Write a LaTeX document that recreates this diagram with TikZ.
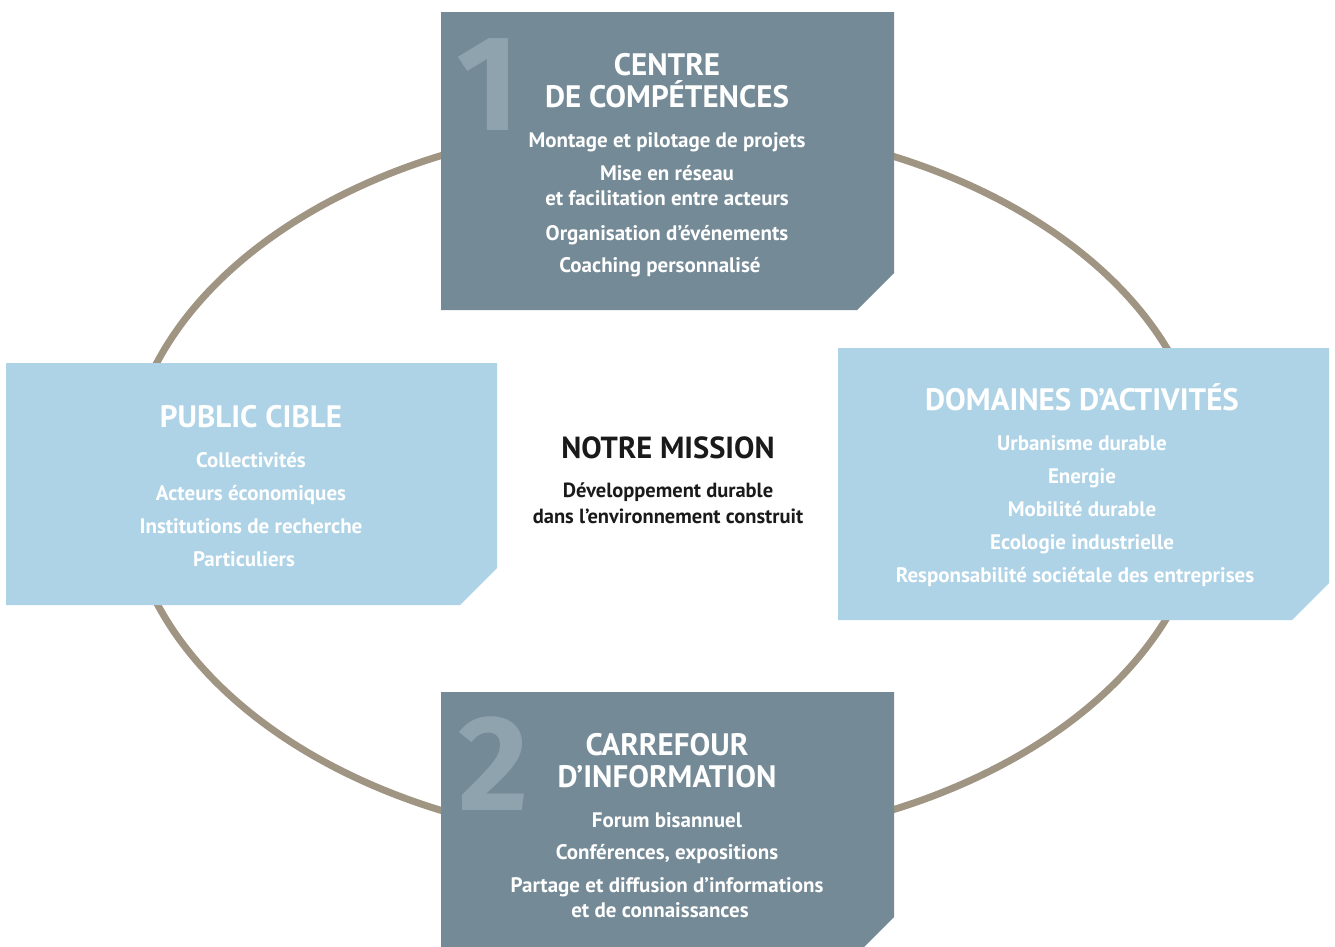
\documentclass[tikz,border=0pt]{standalone}
\usepackage{fontspec}
\setmainfont{PT Sans}
\newfontfamily\numfont{Fira Sans}
\definecolor{slate}{HTML}{748A96}
\definecolor{sky}{HTML}{AED3E6}
\definecolor{taupe}{HTML}{A09582}
\definecolor{numgrey}{HTML}{8FA3AF}
\definecolor{ink}{HTML}{1A1A1A}

\begin{document}
\begin{tikzpicture}[x=1pt, y=-1pt,
    head/.style={text=white, font=\bfseries\fontsize{31}{32}\selectfont, anchor=base, inner sep=0pt},
    item/.style={text=white, font=\bfseries\fontsize{21}{24}\selectfont, anchor=base, inner sep=0pt},
    bignum/.style={text=numgrey, font=\numfont\bfseries\fontsize{136}{136}\selectfont, anchor=base west, inner sep=0pt}]
    \clip (0,0) rectangle (1335,946);
    % ring
    \draw[taupe, line width=7pt] (666,483) ellipse [x radius=540, y radius=360];
    % boxes
    \fill[slate] (441,12)--(894,12)--(894,273)--(857,310)--(441,310)--cycle;
    \fill[sky] (6,363)--(497,363)--(497,568)--(460,605)--(6,605)--cycle;
    \fill[sky] (838,348)--(1329,348)--(1329,583)--(1292,620)--(838,620)--cycle;
    \fill[slate] (441,692)--(894,692)--(894,917)--(857,954)--(441,954)--cycle;

    % centre de competences
    \node[bignum] (one) at (456,130) {1};
    \node[head] (cc1) at (667,75) {CENTRE};
    \node[head] (cc2) at (667,107) {DE COMPÉTENCES};
    \node[item] (cca) at (667,147) {Montage et pilotage de projets};
    \node[item] (ccb) at (667,180) {Mise en réseau};
    \node[item] (ccc) at (667,205) {et facilitation entre acteurs};
    \node[item] (ccd) at (667,240) {Organisation d’événements};
    \node[item] (cce) at (660,272) {Coaching personnalisé};

    % public cible
    \node[head] (pc) at (251,427) {PUBLIC CIBLE};
    \node[item] (pca) at (251,467) {Collectivités};
    \node[item] (pcb) at (251,500) {Acteurs économiques};
    \node[item] (pcc) at (251,533) {Institutions de recherche};
    \node[item] (pcd) at (244,566) {Particuliers};

    % domaines
    \node[head] (da) at (1082,410) {DOMAINES D’ACTIVITÉS};
    \node[item] (daa) at (1082,450) {Urbanisme durable};
    \node[item] (dab) at (1082,483) {Energie};
    \node[item] (dac) at (1082,516) {Mobilité durable};
    \node[item] (dad) at (1082,549) {Ecologie industrielle};
    \node[item] (dae) at (1075,582) {Responsabilité sociétale des entreprises};

    % carrefour
    \node[bignum] (two) at (458,810) {2};
    \node[head] (ci1) at (667,755) {CARREFOUR};
    \node[head] (ci2) at (667,787) {D’INFORMATION};
    \node[item] (cia) at (667,827) {Forum bisannuel};
    \node[item] (cib) at (667,859) {Conférences, expositions};
    \node[item] (cic) at (667,892) {Partage et diffusion d’informations};
    \node[item] (cid) at (660,917) {et de connaissances};

    % mission
    \node[head, text=ink, font=\bfseries\fontsize{30.5}{31}\selectfont] (mi) at (668,458) {NOTRE MISSION};
    \node[item, text=ink, font=\bfseries\fontsize{20.5}{22}\selectfont] (mia) at (668,497) {Développement durable};
    \node[item, text=ink, font=\bfseries\fontsize{20.5}{22}\selectfont] (mib) at (668,523) {dans l’environnement construit};
\end{tikzpicture}
\end{document}
